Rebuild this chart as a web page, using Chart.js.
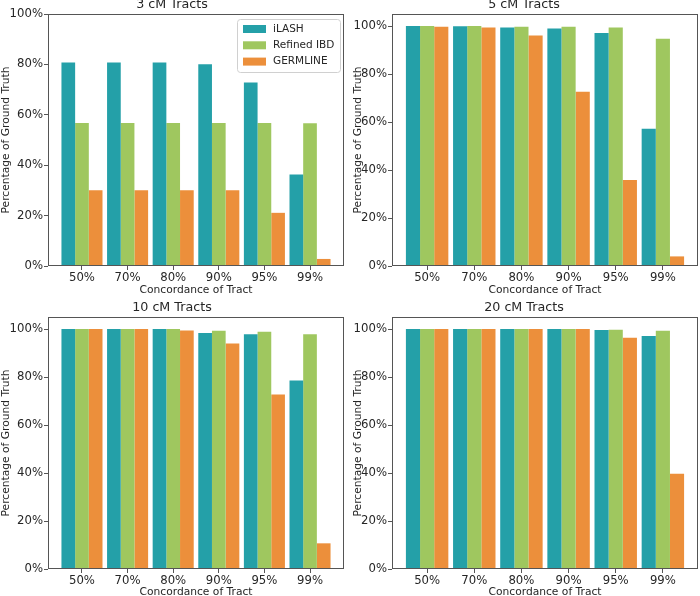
<!DOCTYPE html>
<html>
<head>
<meta charset="utf-8">
<script src="https://cdn.jsdelivr.net/npm/chart.js@4.4.1/dist/chart.umd.min.js"></script>
<style>
  html, body { margin: 0; padding: 0; background: #fff; }
  #wrap { position: relative; width: 700px; height: 596px; overflow: hidden; }
  .cell { position: absolute; width: 350px; height: 298px; }
</style>
</head>
<body>
<div id="wrap">
  <div class="cell" style="left:0;top:0"><canvas id="c3" width="350" height="298"></canvas></div>
  <div class="cell" style="left:350px;top:0"><canvas id="c5" width="350" height="298"></canvas></div>
  <div class="cell" style="left:0;top:298px"><canvas id="c10" width="350" height="298"></canvas></div>
  <div class="cell" style="left:350px;top:298px"><canvas id="c20" width="350" height="298"></canvas></div>
</div>
<script>
// categories and tick values
const categories = ['50%', '70%', '80%', '90%', '95%', '99%'];
const yTicks = [0, 20, 40, 60, 80, 100];
const seriesNames = ['iLASH', 'Refined IBD', 'GERMLINE'];
const seriesColors = ['#24a0a8', '#9fc75f', '#ec8f3b'];

// 3 cM tracts
const ilash3 = [80.8, 80.8, 80.8, 80.1, 72.8, 36.3];
const refined3 = [56.7, 56.7, 56.7, 56.7, 56.7, 56.6];
const germline3 = [30.1, 30.1, 30.1, 30.1, 21.1, 2.8];

// 5 cM tracts
const ilash5 = [100, 99.9, 99.4, 99.0, 97.1, 57.2];
const refined5 = [100, 100, 99.7, 99.7, 99.4, 94.7];
const germline5 = [99.7, 99.4, 96.0, 72.6, 35.8, 4.0];

// 10 cM tracts
const ilash10 = [100, 100, 100, 98.3, 97.8, 78.5];
const refined10 = [100, 100, 100, 99.3, 98.9, 97.8];
const germline10 = [100, 100, 99.4, 94.0, 72.7, 10.7];

// 20 cM tracts
const ilash20 = [100, 100, 100, 100, 99.6, 97.1];
const refined20 = [100, 100, 100, 100, 99.7, 99.3];
const germline20 = [100, 100, 100, 100, 96.4, 39.7];

const FONT = 'DejaVu Sans';
const TEXT = '#262626';
const SPINE = '#555555';

// matplotlib-style box around the plot area
const framePlugin = {
    id: 'frame',
    afterDraw(chart) {
        const a = chart.chartArea;
        const ctx = chart.ctx;
        ctx.save();
        ctx.strokeStyle = SPINE;
        ctx.lineWidth = 1;
        ctx.strokeRect(Math.round(a.left) + 0.5, Math.round(a.top) + 0.5,
            Math.round(a.right - a.left) - 1, Math.round(a.bottom - a.top) - 1);
        ctx.restore();
    }
};

// legend drawn inside the plot area, upper right
const innerLegend = {
    id: 'innerLegend',
    afterDraw(chart, args, opts) {
        if (!opts.show) return;
        const a = chart.chartArea;
        const ctx = chart.ctx;
        const w = 103, h = 53;
        const x = a.right - w - 4, y = a.top + 5;
        ctx.save();
        ctx.beginPath();
        ctx.roundRect(x + 0.5, y + 0.5, w, h, 3);
        ctx.fillStyle = 'rgba(255,255,255,0.8)';
        ctx.fill();
        ctx.strokeStyle = '#d0d0d0';
        ctx.lineWidth = 1;
        ctx.stroke();
        ctx.font = '10.5px "' + FONT + '"';
        ctx.textBaseline = 'middle';
        ctx.textAlign = 'left';
        chart.data.datasets.forEach((ds, i) => {
            const cy = y + 10 + i * 16.3;
            ctx.fillStyle = ds.backgroundColor;
            ctx.fillRect(x + 6, cy - 4, 23, 8);
            ctx.fillStyle = TEXT;
            ctx.fillText(ds.label, x + 36, cy);
        });
        ctx.restore();
    }
};

function makeChart(id, title, series, cfg) {
    const ctx = document.getElementById(id);
    return new Chart(ctx, {
        type: 'bar',
        data: {
            datasets: series.map((vals, i) => ({
                label: seriesNames[i],
                data: vals.map((v, j) => ({ x: j, y: v })),
                backgroundColor: seriesColors[i],
                borderWidth: 0,
                categoryPercentage: 0.9,
                barPercentage: 1.0
            }))
        },
        options: {
            responsive: false,
            animation: false,
            events: [],
            layout: { padding: { left: 0, right: cfg.padRight, top: 0, bottom: 0 } },
            plugins: {
                legend: { display: false },
                tooltip: { enabled: false },
                title: {
                    display: true,
                    text: title,
                    color: TEXT,
                    font: { family: FONT, size: 12.7, weight: 'normal', lineHeight: cfg.titleLine },
                    padding: { top: 0, bottom: cfg.titlePad }
                },
                innerLegend: { show: !!cfg.legend }
            },
            scales: {
                x: {
                    type: 'linear',
                    offset: false,
                    min: -0.745,
                    max: 5.745,
                    afterBuildTicks: s => { s.ticks = categories.map((c, i) => ({ value: i })); },
                    afterFit: s => { s.height = cfg.xHeight; },
                    grid: { display: true, offset: false, drawOnChartArea: false, drawTicks: true, tickLength: 4, color: SPINE },
                    border: { display: false },
                    ticks: {
                        color: TEXT,
                        padding: 1,
                        maxRotation: 0,
                        autoSkip: false,
                        font: { family: FONT, size: 11.7 },
                        callback: v => categories[v]
                    },
                    title: {
                        display: true,
                        text: 'Concordance of Tract',
                        color: TEXT,
                        font: { family: FONT, size: 10.7 },
                        padding: { top: 0, bottom: cfg.xTitlePad }
                    }
                },
                y: {
                    min: 0,
                    max: cfg.yMax,
                    afterBuildTicks: s => { s.ticks = yTicks.map(v => ({ value: v })); },
                    afterFit: s => { s.width = cfg.yWidth; },
                    grid: { display: true, drawOnChartArea: false, drawTicks: true, tickLength: 4, color: SPINE },
                    border: { display: false },
                    ticks: {
                        color: TEXT,
                        padding: 1,
                        font: { family: FONT, size: 11.7 },
                        callback: v => v + '%'
                    },
                    title: {
                        display: true,
                        text: 'Percentage of Ground Truth',
                        color: TEXT,
                        font: { family: FONT, size: 10.7 },
                        padding: { top: cfg.yTitlePad, bottom: 0 }
                    }
                }
            }
        },
        plugins: [framePlugin, innerLegend]
    });
}

const topLeft = { yMax: 100, yWidth: 48, xHeight: 32, padRight: 6, titleLine: '10px', titlePad: 4, xTitlePad: 1, yTitlePad: 0, legend: true };
const topRight = { yMax: 105, yWidth: 42, xHeight: 32, padRight: 2, titleLine: '10px', titlePad: 4, xTitlePad: 1, yTitlePad: 1.5 };
const botLeft = { yMax: 105, yWidth: 48, xHeight: 27, padRight: 6, titleLine: '19px', titlePad: 0, xTitlePad: -3, yTitlePad: 0 };
const botRight = { yMax: 105, yWidth: 42, xHeight: 27, padRight: 2, titleLine: '19px', titlePad: 0, xTitlePad: -3, yTitlePad: 1.5 };

makeChart('c3', '3 cM Tracts', [ilash3, refined3, germline3], topLeft);
makeChart('c5', '5 cM Tracts', [ilash5, refined5, germline5], topRight);
makeChart('c10', '10 cM Tracts', [ilash10, refined10, germline10], botLeft);
makeChart('c20', '20 cM Tracts', [ilash20, refined20, germline20], botRight);
</script>
</body>
</html>
